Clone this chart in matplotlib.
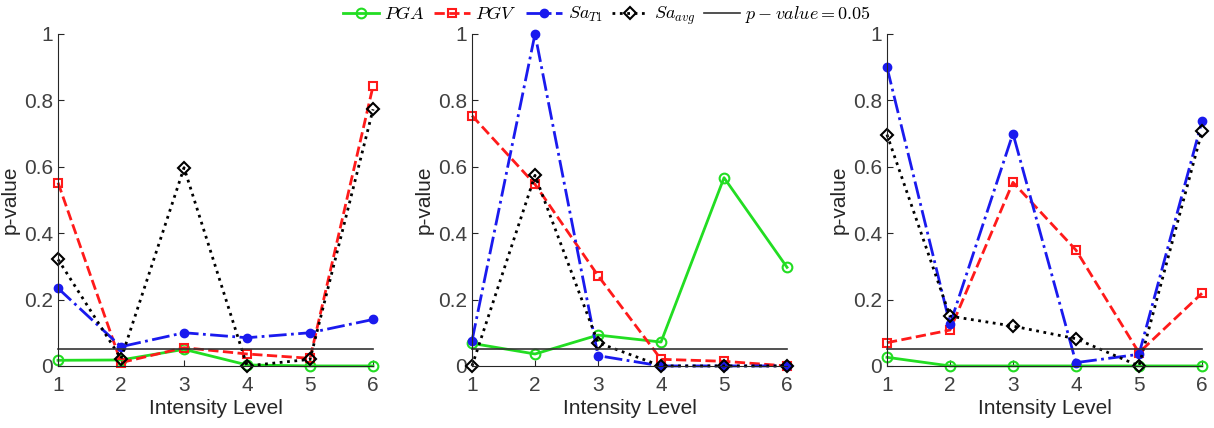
import matplotlib.pyplot as plt
import numpy as np
from matplotlib.ticker import FuncFormatter

plt.rcParams['font.family'] = ['Liberation Sans', 'DejaVu Sans']
plt.rcParams['mathtext.fontset'] = 'cm'

levels = [1, 2, 3, 4, 5, 6]
p_threshold = 0.05

# p-values per intensity level, one list per panel
pga = [
	[0.017, 0.018, 0.050, 0.003, 0.0, 0.0],
	[0.068, 0.036, 0.093, 0.072, 0.567, 0.297],
	[0.026, 0.0, 0.0, 0.0, 0.0, 0.0],
]
pgv = [
	[0.552, 0.010, 0.055, 0.036, 0.023, 0.843],
	[0.754, 0.547, 0.272, 0.020, 0.014, 0.0],
	[0.070, 0.108, 0.553, 0.349, 0.040, 0.219],
]
sa_t1 = [
	[0.234, 0.058, 0.100, 0.085, 0.100, 0.140],
	[0.076, 1.0, 0.031, 0.0, 0.0, 0.0],
	[0.900, 0.125, 0.700, 0.010, 0.035, 0.737],
]
sa_avg = [
	[0.321, 0.022, 0.597, 0.0, 0.020, 0.773],
	[0.0, 0.574, 0.070, 0.0, 0.0, 0.0],
	[0.697, 0.150, 0.120, 0.082, 0.0, 0.707],
]

fig = plt.figure(figsize=(12.14, 4.28), dpi=100)
lefts = [0.0478, 0.3888, 0.7306]
axcol = '#262626'

def fmt(v, pos):
	return '%g' % round(v, 1)

handles = None
for k in range(3):
	ax = fig.add_axes([lefts[k], 0.145, 0.2595, 0.7757])
	h1, = ax.plot(levels, pga[k], '-o', color='#22dd22', mfc='none', mew=1.5, ms=7, lw=2, label=r'$PGA$')
	h2, = ax.plot(levels, pgv[k], '--s', color='#ff1a1a', mfc='none', mew=1.5, ms=6, lw=2, label=r'$PGV$')
	h3, = ax.plot(levels, sa_t1[k], '-.', marker='o', color='#1a1aee', ms=6, lw=2, label=r'$Sa_{T1}$')
	h4, = ax.plot(levels, sa_avg[k], ':', marker='D', color='black', mfc='none', mew=1.5, ms=6, lw=2, label=r'$Sa_{avg}$')
	h5, = ax.plot([levels[0], levels[-1]], [p_threshold, p_threshold], '-', color='#333333', lw=1.2, label=r'$p-value=0.05$')
	handles = [h1, h2, h3, h4, h5]
	ax.set_xlim(1, 6)
	ax.set_ylim(0, 1)
	ax.set_xticks(levels)
	ax.set_yticks(np.arange(0, 1.01, 0.2))
	ax.yaxis.set_major_formatter(FuncFormatter(fmt))
	for s in ['top', 'right']:
		ax.spines[s].set_visible(False)
	for s in ['left', 'bottom']:
		ax.spines[s].set_color(axcol)
		ax.spines[s].set_linewidth(0.8)
	ax.tick_params(direction='in', length=4, colors=axcol, labelsize=15, labelcolor='#404040')
	ax.tick_params(axis='x', pad=7)
	ax.set_ylabel('p-value', fontsize=15, color='#262626', labelpad=3)
	ax.set_xlabel('Intensity Level', fontsize=15, color='#262626', labelpad=3)
	for sp in ax.spines.values():
		sp.set_clip_on(False)
	for ln in ax.lines:
		ln.set_clip_on(False)

fig.legend(handles=handles, loc='upper center', bbox_to_anchor=(0.5, 1.02), ncol=5,
	frameon=False, fontsize=13, handlelength=2.0, handletextpad=0.3, columnspacing=0.5,
	borderaxespad=0.3)

fig.savefig('out.png', dpi=100)
